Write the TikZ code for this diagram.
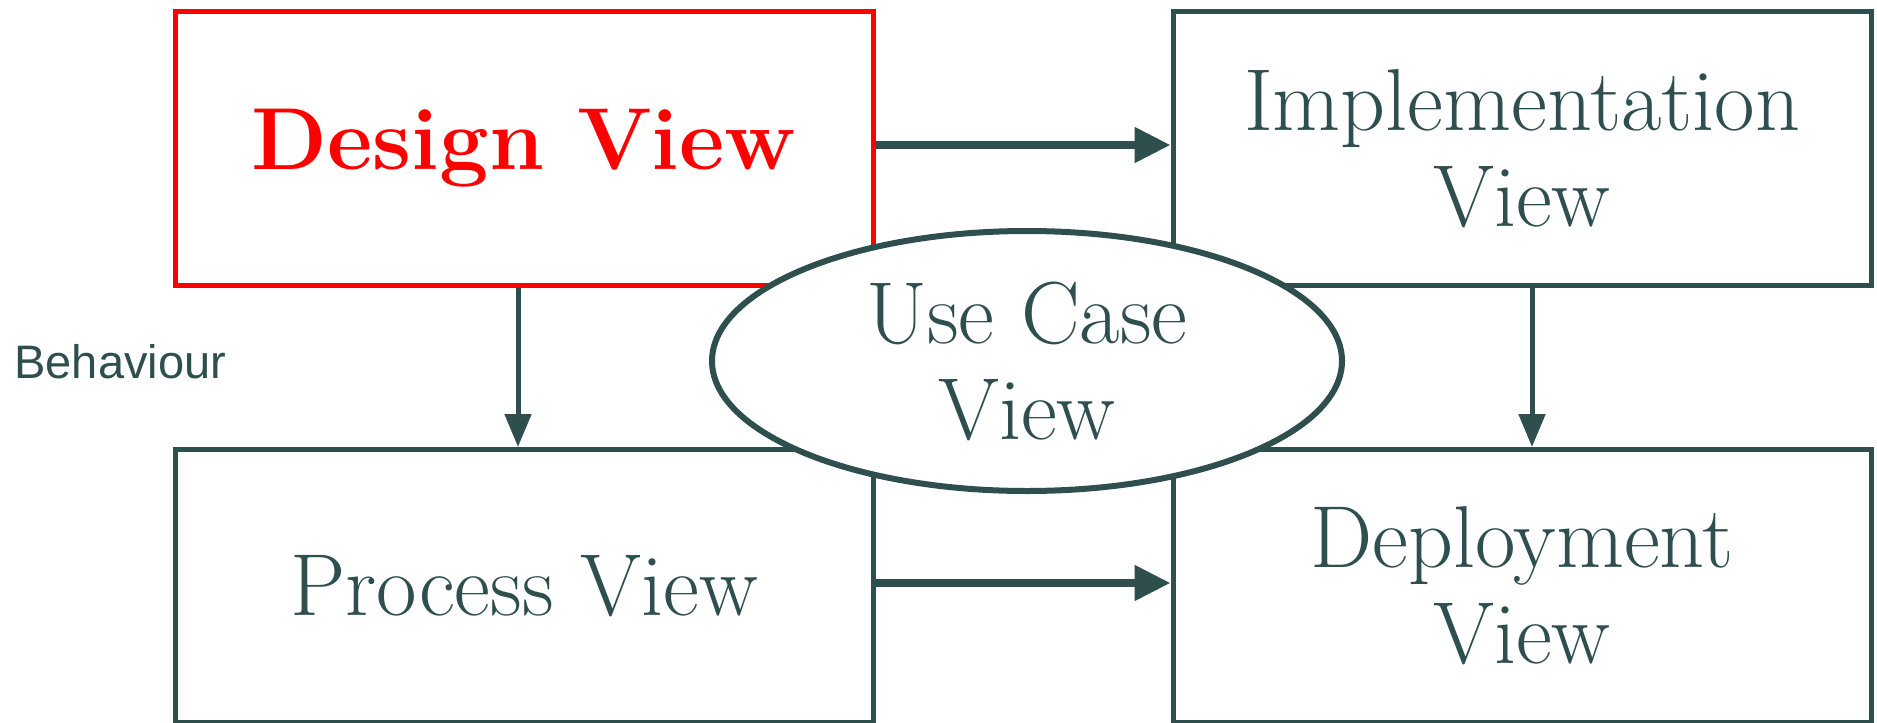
\documentclass[tikz,border=0pt]{standalone}
\usepackage{fontspec}
\newfontfamily\labelsans{Liberation Sans}
\usetikzlibrary{arrows.meta,shapes.geometric}
\definecolor{slate}{RGB}{47,79,79}
\definecolor{purered}{RGB}{255,0,0}

\begin{document}
\begin{tikzpicture}[x=0.5pt,y=-0.5pt,
  viewbox/.style={draw=slate, line width=2.5pt, fill=white,
    minimum width=349pt, minimum height=136.5pt, inner sep=0pt,
    text=slate, align=center, font=\fontsize{44}{48}\selectfont},
  designbox/.style={viewbox, draw=purered, text=purered,
    font=\fontsize{44}{48}\selectfont\bfseries},
  usecase/.style={ellipse, draw=slate, line width=3pt, fill=white,
    minimum width=315pt, minimum height=130pt, inner sep=0pt,
    text=slate, align=center, font=\fontsize{44}{48}\selectfont},
  flowthick/.style={draw=slate, line width=4pt,
    -{Triangle[length=18pt,width=17pt]}},
  flowthin/.style={draw=slate, line width=2.5pt,
    -{Triangle[length=16.5pt,width=13pt]}},
  sidelabel/.style={text=slate, inner sep=0pt, font=\labelsans\fontsize{23.5}{28}\selectfont}
]
\useasboundingbox (0,0) rectangle (1877,722);

% the four views
\node[designbox] (design)  at (524,148.5)  {Design View};
\node[viewbox]   (impl)    at (1522,148.5) {Implementation\\View};
\node[viewbox]   (process) at (524,586)    {Process View};
\node[viewbox]   (deploy)  at (1522,586)   {Deployment\\View};

% dependencies between the views
\draw[flowthick] ([yshift=1.75pt]design.east) -- ([yshift=1.75pt]impl.west);
\draw[flowthick] ([yshift=1.5pt]process.east) -- ([yshift=1.5pt]deploy.west);
\draw[flowthin]  ([xshift=-3pt]design.south) -- ([xshift=-3pt]process.north);
\draw[flowthin]  ([xshift=5pt]impl.south) -- ([xshift=5pt]deploy.north);

% central use case view on top
\node[usecase] (usecase) at (1027,361) {Use Case\\View};

\node[sidelabel, anchor=base west] (behaviour) at (14,378) {Behaviour};
\end{tikzpicture}
\end{document}
